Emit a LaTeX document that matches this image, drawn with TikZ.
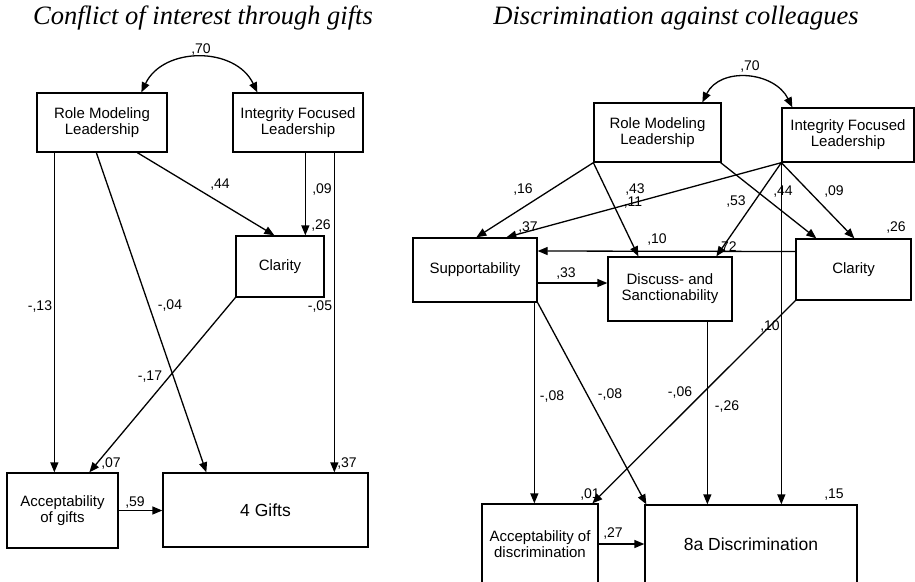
\documentclass[tikz,border=0pt]{standalone}
\usepackage{fontspec}
\setmainfont{Liberation Sans}
\newfontfamily\titlefont{Liberation Serif}
\usetikzlibrary{arrows.meta,calc}
\tikzset{
  >={Triangle[length=10pt,width=8pt]},
  every node/.style={font=\fontsize{14}{15}\selectfont},
  box/.style={draw=black,line width=1.3pt,fill=white,align=center,inner sep=2pt,
              font=\fontsize{15}{16}\selectfont},
  bigbox/.style={box,font=\fontsize{17.5}{19}\selectfont},
  title/.style={font=\titlefont\itshape\fontsize{26.5}{28}\selectfont},
  coef/.style={inner sep=0pt,fill=none},
  path/.style={->,line width=1.3pt},
  both/.style={<->,line width=1.3pt},
}
\begin{document}
\begin{tikzpicture}[x=1pt,y=1pt]
  \useasboundingbox (0,0) rectangle (915,-581);

  % titles
  \node[title] (tl) at (203,-18) {Conflict of interest through gifts};
  \node[title] (tr) at (676,-18) {Discrimination against colleagues};

  % left model: boxes
  \node[box,minimum width=130pt,minimum height=59pt] (rmL) at (102,-122.5) {Role Modeling\\Leadership};
  \node[box,minimum width=130pt,minimum height=59pt] (ifL) at (298,-122.5) {Integrity Focused\\Leadership};
  \node[box,minimum width=88pt,minimum height=61pt]  (clL) at (280,-266.5) {Clarity};
  \node[box,minimum width=111pt,minimum height=75pt] (acL) at (62.5,-510.5) {Acceptability\\of gifts};
  \node[bigbox,minimum width=205pt,minimum height=74pt] (giL) at (265.5,-510) {4 Gifts};

  % left model: paths
  \draw[both] ([xshift=105pt]rmL.north west) .. controls +(22,46) and +(-22,46) .. ([xshift=25pt]ifL.north west);
  \draw[path] ([xshift=18pt]rmL.south west) -- ([xshift=48pt]acL.north west);
  \draw[path] ([xshift=60pt]rmL.south west) -- ([xshift=44pt]giL.north west);
  \draw[path] ([xshift=101pt]rmL.south west) -- ([xshift=39pt]clL.north west);
  \draw[path] ([xshift=73pt]ifL.south west) -- ([xshift=70pt]clL.north west);
  \draw[path] ([xshift=102pt]ifL.south west) -- ([xshift=172pt]giL.north west);
  \draw[path] (clL.south west) -- ([xshift=83pt]acL.north west);
  \draw[path] (acL.east) -- (giL.west |- acL.east);

  % left model: coefficients
  \node[coef] (c70L) at (201,-50)  {,70};
  \node[coef] (c44L) at (220,-185) {,44};
  \node[coef] (c09L) at (322,-190) {,09};
  \node[coef] (c26L) at (321,-226) {,26};
  \node[coef] (c13L) at (40,-307)  {-,13};
  \node[coef] (c04L) at (170,-306) {-,04};
  \node[coef] (c05L) at (320,-307) {-,05};
  \node[coef] (c17L) at (150,-377) {-,17};
  \node[coef] (c07L) at (111,-463) {,07};
  \node[coef] (c37L) at (347,-463) {,37};
  \node[coef] (c59L) at (135,-502) {,59};

  % right model: boxes
  \node[box,minimum width=127pt,minimum height=59pt] (rmR) at (657.5,-132.5) {Role Modeling\\Leadership};
  \node[box,minimum width=132pt,minimum height=54pt] (ifR) at (848,-135) {Integrity Focused\\Leadership};
  \node[box,minimum width=124pt,minimum height=64pt] (suR) at (475,-270) {Supportability};
  \node[box,minimum width=124pt,minimum height=64pt] (diR) at (670,-289) {Discuss- and\\Sanctionability};
  \node[box,minimum width=115pt,minimum height=61pt] (clR) at (853.5,-269.5) {Clarity};
  \node[box,minimum width=116pt,minimum height=80pt] (acR) at (540,-544) {Acceptability of\\discrimination};
  \node[bigbox,minimum width=212pt,minimum height=79pt] (dsR) at (751,-544.5) {8a Discrimination};

  % right model: paths
  \draw[both] ([xshift=109pt]rmR.north west) .. controls +(18,36) and +(-18,36) .. ([xshift=11pt]ifR.north west);
  \draw[path] (rmR.south west) -- ([xshift=64pt]suR.north west);
  \draw[path] (rmR.south west) -- ([xshift=31pt]diR.north west);
  \draw[path] ([xshift=-1pt]rmR.south east) -- ([xshift=21pt]clR.north west);
  \draw[path] (ifR.south west) -- ([xshift=94pt]suR.north west);
  \draw[path] (ifR.south west) -- ([xshift=109pt]diR.north west);
  \draw[path] (ifR.south west) -- ([xshift=59pt]clR.north west);
  \draw[path] (ifR.south west) -- ([xshift=137pt]dsR.north west);
  \draw[path] ([yshift=18pt]clR.west) -- ([yshift=19pt]suR.east);
  \draw[path] ([yshift=-13pt]suR.east) -- ([yshift=6pt]diR.west);
  \draw[path] ([xshift=122pt]suR.south west) -- ([xshift=53pt]acR.north west);
  \draw[path] (suR.south east) -- ([xshift=2pt]dsR.north west);
  \draw[path] (clR.south west) -- ([xshift=111pt]acR.north west);
  \draw[path] ([xshift=100pt]diR.south west) -- ([xshift=63pt]dsR.north west);
  \draw[path] (acR.east) -- (dsR.west |- acR.east);

  % right model: coefficients
  \node[coef] (c70R) at (750,-67)  {,70};
  \node[coef] (c16R) at (523,-190) {,16};
  \node[coef] (c43R) at (635,-190) {,43};
  \node[coef] (c11R) at (633,-203) {,11};
  \node[coef] (c44R) at (783,-192) {,44};
  \node[coef] (c53R) at (736,-202) {,53};
  \node[coef] (c09R) at (834,-192) {,09};
  \node[coef] (c37R) at (528,-228) {,37};
  \node[coef] (c10aR) at (657,-240) {,10};
  \node[coef] (c72R) at (727,-248) {,72};
  \node[coef] (c26R) at (896,-228) {,26};
  \node[coef] (c33R) at (566,-274) {,33};
  \node[coef] (c10bR) at (770,-327) {,10};
  \node[coef] (c08aR) at (552,-397) {-,08};
  \node[coef] (c08bR) at (610,-395) {-,08};
  \node[coef] (c06R) at (680,-393) {-,06};
  \node[coef] (c26bR) at (727,-407) {-,26};
  \node[coef] (c01R) at (590,-494) {,01};
  \node[coef] (c15R) at (834,-495) {,15};
  \node[coef] (c27R) at (613,-533) {,27};
\end{tikzpicture}
\end{document}
